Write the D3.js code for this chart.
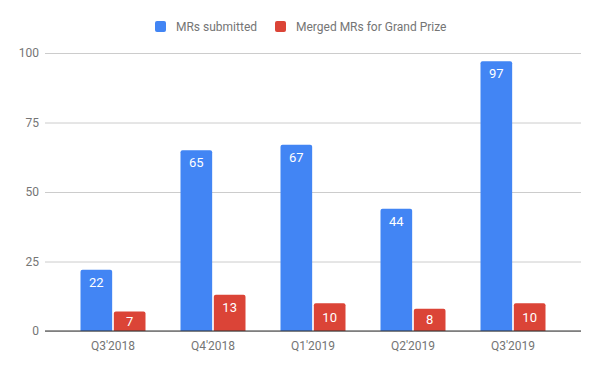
<!DOCTYPE html>
<html lang="en">
<head>
<meta charset="UTF-8">
<script src="https://cdn.jsdelivr.net/npm/d3@7"></script>
<style>
  body { margin: 0; background: #fff; }
  text { font-family: Roboto, Arial, sans-serif; }
</style>
</head>
<body>
<script>
// data
const quarters = ["Q3'2018", "Q4'2018", "Q1'2019", "Q2'2019", "Q3'2019"];
const seriesNames = ["MRs submitted", "Merged MRs for Grand Prize"];
const submitted = [22, 65, 67, 44, 97];
const merged = [7, 13, 10, 8, 10];
const yTicks = [0, 25, 50, 75, 100];
const colors = ["#4285f4", "#db4437"];

const width = 600, height = 371;
const plotLeft = 45, plotRight = 581, plotTop = 53, plotBottom = 331;

const svg = d3.select('body').append('svg')
  .attr('width', width)
  .attr('height', height);

const y = d3.scaleLinear().domain([0, 100]).range([plotBottom, plotTop]);
const x0 = d3.scaleBand().domain(quarters).range([plotLeft, plotRight])
  .paddingInner(0.35).paddingOuter(0.355);
const x1 = d3.scaleBand().domain(seriesNames).range([0, x0.bandwidth()])
  .paddingInner(0.05);

// gridlines + y labels
const yAxis = d3.axisLeft(y).tickValues(yTicks).tickSize(-(plotRight - plotLeft)).tickPadding(6);
const gy = svg.append('g').attr('transform', `translate(${plotLeft},0)`).call(yAxis);
gy.select('.domain').remove();
gy.selectAll('.tick line').attr('stroke', '#cccccc');
gy.selectAll('.tick text').attr('fill', '#757575').style('font-size', '12px');

// bars
const rows = quarters.map((q, i) => ({ q, vals: [submitted[i], merged[i]] }));
const groups = svg.append('g').selectAll('g').data(rows).join('g')
  .attr('transform', d => `translate(${x0(d.q)},0)`);

function topRounded(x, yTop, w, h, r) {
  r = Math.min(r, h);
  return `M${x},${yTop + h}V${yTop + r}Q${x},${yTop} ${x + r},${yTop}H${x + w - r}Q${x + w},${yTop} ${x + w},${yTop + r}V${yTop + h}Z`;
}

groups.selectAll('path').data(d => d.vals.map((v, k) => ({ s: seriesNames[k], v, k })))
  .join('path')
  .attr('d', d => topRounded(x1(d.s), y(d.v), x1.bandwidth(), y(0) - y(d.v), 2))
  .attr('fill', d => colors[d.k]);

// value labels: near the top, or centred when the bar is short
groups.selectAll('text').data(d => d.vals.map((v, k) => ({ s: seriesNames[k], v, k })))
  .join('text')
  .attr('x', d => x1(d.s) + x1.bandwidth() / 2)
  .attr('y', d => {
    const h = y(0) - y(d.v);
    return h < 34 ? y(d.v) + h / 2 + 4.5 : y(d.v) + 17;
  })
  .attr('text-anchor', 'middle')
  .attr('fill', '#ffffff')
  .style('font-size', '13px')
  .text(d => d.v);

// baseline
svg.append('line')
  .attr('x1', plotLeft).attr('x2', plotRight)
  .attr('y1', y(0)).attr('y2', y(0))
  .attr('stroke', '#333333').attr('stroke-width', 1.2);

// x labels
const xAxis = d3.axisBottom(x0).tickSize(0).tickPadding(10);
const gx = svg.append('g').attr('transform', `translate(0,${plotBottom})`).call(xAxis);
gx.select('.domain').remove();
gx.selectAll('.tick text').attr('fill', '#757575').style('font-size', '12px');

// legend
const legend = svg.append('g');
const legendX = [155, 275];
seriesNames.forEach((name, i) => {
  const g = legend.append('g').attr('transform', `translate(${legendX[i]},21)`);
  g.append('rect').attr('width', 11).attr('height', 11).attr('rx', 2).attr('fill', colors[i]);
  g.append('text').attr('x', 21).attr('y', 10)
    .attr('fill', '#757575').style('font-size', '12px').text(name);
});
</script>
</body>
</html>
